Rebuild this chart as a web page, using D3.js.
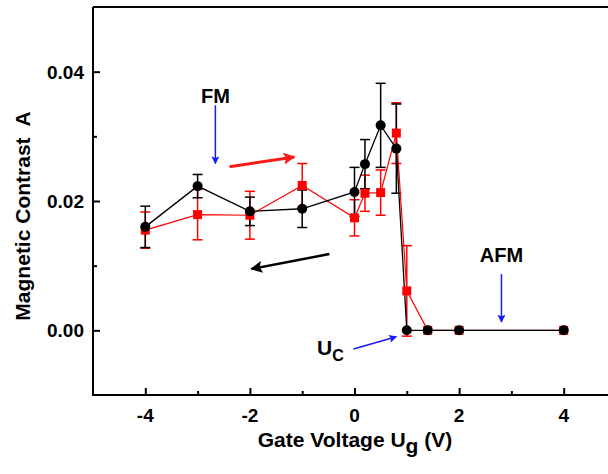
<!DOCTYPE html>
<html>
<head>
<meta charset="utf-8">
<script src="https://cdn.jsdelivr.net/npm/d3@7"></script>
<style>
  body { margin: 0; background: #fff; }
  text { font-family: "Liberation Sans", Arial, sans-serif; font-weight: bold; white-space: pre; }
</style>
</head>
<body>
<div id="chart"></div>
<script>
// gate voltage sweep, magnetic contrast with error bars
var gate = [-4, -3, -2, -1, 0, 0.2, 0.5, 0.8, 1.0, 1.4, 2, 4];
var blackVals = [0.0160, 0.0223, 0.0184, 0.0188, 0.0214, 0.0257, 0.0317, 0.0281, 0, 0, 0, 0];
var blackErr  = [0.0032, 0.0018, 0.0022, 0.0029, 0.0038, 0.0038, 0.0065, 0.0069, 0, 0, 0, 0];
var redVals   = [0.0155, 0.0179, 0.0178, 0.0224, 0.0174, 0.0212, 0.0213, 0.0305, 0.0061, 0, 0, 0];
var redErr    = [0.0028, 0.0039, 0.0037, 0.0034, 0.0028, 0.0028, 0.0035, 0.0047, 0.0070, 0, 0, 0];

var xTicks = [-4, -2, 0, 2, 4];
var xMinor = [-3, -1, 1, 3];
var yTicks = [0, 0.02, 0.04];
var yMinor = [0.01, 0.03];

var width = 608,
    height = 474;

var x = d3.scaleLinear().domain([-5, 5]).range([93, 616]);
var y = d3.scaleLinear().domain([-0.01, 0.05]).range([395, 7]);

var svg = d3.select("#chart").append("svg")
    .attr("width", width)
    .attr("height", height);

var defs = svg.append("defs");
function marker(id, color, w, h) {
    defs.append("marker")
        .attr("id", id)
        .attr("viewBox", "0 0 10 10")
        .attr("refX", 9).attr("refY", 5)
        .attr("markerUnits", "userSpaceOnUse")
        .attr("markerWidth", w).attr("markerHeight", h)
        .attr("orient", "auto")
        .append("path")
        .attr("d", "M0,0 L10,5 L0,10 L2,5 Z")
        .attr("fill", color);
}
marker("headBlue", "#1a1aff", 8, 8);
marker("headRed", "#ff1a1a", 16, 12);
marker("headBlack", "#000", 16, 12);

// frame
svg.append("path")
    .attr("d", "M" + x(-5) + "," + y(0.05) + "H" + (width + 5) +
               "M" + x(-5) + "," + y(0.05) + "V" + y(-0.01) + "H" + (width + 5))
    .attr("fill", "none").attr("stroke", "#000").attr("stroke-width", 2);

// ticks (inward)
var xAxis = d3.axisTop(x).tickValues(xTicks).tickSize(7).tickFormat("");
var gx = svg.append("g").attr("transform", "translate(0," + y(-0.01) + ")").call(xAxis);
gx.select(".domain").remove();
gx.selectAll("line").attr("stroke-width", 2);
var gxm = svg.append("g").attr("transform", "translate(0," + y(-0.01) + ")")
    .call(d3.axisTop(x).tickValues(xMinor).tickSize(4).tickFormat(""));
gxm.select(".domain").remove();
gxm.selectAll("line").attr("stroke-width", 2);

var gy = svg.append("g").attr("transform", "translate(" + x(-5) + ",0)")
    .call(d3.axisRight(y).tickValues(yTicks).tickSize(7).tickFormat(""));
gy.select(".domain").remove();
gy.selectAll("line").attr("stroke-width", 2);
var gym = svg.append("g").attr("transform", "translate(" + x(-5) + ",0)")
    .call(d3.axisRight(y).tickValues(yMinor).tickSize(4).tickFormat(""));
gym.select(".domain").remove();
gym.selectAll("line").attr("stroke-width", 2);

// tick labels
svg.selectAll(".xl").data(xTicks).enter().append("text")
    .attr("x", function(d) { return x(d); })
    .attr("y", 422)
    .attr("text-anchor", "middle")
    .style("font-size", "19px")
    .text(function(d) { return d3.format("d")(d).replace("−", "-"); });
svg.selectAll(".yl").data(yTicks).enter().append("text")
    .attr("x", 84)
    .attr("y", function(d) { return y(d) + 7; })
    .attr("text-anchor", "end")
    .style("font-size", "19px")
    .text(function(d) { return d3.format(".2f")(d); });

// axis titles
svg.append("text")
    .attr("transform", "translate(30," + 216 + ") rotate(-90)")
    .attr("text-anchor", "middle")
    .style("font-size", "21px")
    .text("Magnetic Contrast  A");
var xt = svg.append("text")
    .attr("x", 355).attr("y", 447)
    .attr("text-anchor", "middle")
    .style("font-size", "21px");
xt.append("tspan").text("Gate Voltage U");
xt.append("tspan").attr("dy", 6).text("g");
xt.append("tspan").attr("dy", -6).text(" (V)");

// series
var black = gate.map(function(g, i) { return {x: g, y: blackVals[i], e: blackErr[i]}; });
var red = gate.map(function(g, i) { return {x: g, y: redVals[i], e: redErr[i]}; });

var line = d3.line()
    .x(function(d) { return x(d.x); })
    .y(function(d) { return y(d.y); });

function errorBars(data, color, w) {
    var g = svg.append("g").attr("stroke", color).attr("stroke-width", w);
    data.filter(function(d) { return d.e > 0; }).forEach(function(d) {
        var cx = x(d.x), t = y(d.y + d.e), b = y(d.y - d.e);
        g.append("line").attr("x1", cx).attr("x2", cx).attr("y1", t).attr("y2", b);
        g.append("line").attr("x1", cx - 5).attr("x2", cx + 5).attr("y1", t).attr("y2", t);
        g.append("line").attr("x1", cx - 5).attr("x2", cx + 5).attr("y1", b).attr("y2", b);
    });
}

errorBars(red, "#ff0000", 1.5);
errorBars(black, "#000", 1.5);

svg.append("path").datum(red).attr("d", line)
    .attr("fill", "none").attr("stroke", "#ff0000").attr("stroke-width", 1.2);
svg.append("path").datum(black).attr("d", line)
    .attr("fill", "none").attr("stroke", "#000").attr("stroke-width", 1.3);

svg.selectAll(".sq").data(red).enter().append("rect")
    .attr("x", function(d) { return x(d.x) - 4.5; })
    .attr("y", function(d) { return y(d.y) - 4.5; })
    .attr("width", 9).attr("height", 9)
    .attr("fill", "#ff0000");
svg.selectAll(".dot").data(black).enter().append("circle")
    .attr("cx", function(d) { return x(d.x); })
    .attr("cy", function(d) { return y(d.y); })
    .attr("r", 5)
    .attr("fill", "#000");

// annotations
function arrow(x1, y1, x2, y2, color, w, head) {
    svg.append("line")
        .attr("x1", x(x1)).attr("y1", y(y1))
        .attr("x2", x(x2)).attr("y2", y(y2))
        .attr("stroke", color).attr("stroke-width", w)
        .attr("marker-end", "url(#" + head + ")");
}
arrow(-2.66, 0.0348, -2.66, 0.0258, "#1a1aff", 1.5, "headBlue");
arrow(-2.39, 0.0253, -1.15, 0.0268, "#ff1a1a", 3, "headRed");
arrow(-0.48, 0.0118, -1.97, 0.0095, "#000", 2.5, "headBlack");
arrow(2.81, 0.0087, 2.81, 0.0013, "#1a1aff", 1.5, "headBlue");
arrow(-0.02, -0.0029, 0.80, -0.0010, "#1a1aff", 1.5, "headBlue");

svg.append("text").attr("x", x(-2.66)).attr("y", 103)
    .attr("text-anchor", "middle").style("font-size", "20px").text("FM");
svg.append("text").attr("x", x(2.81)).attr("y", 262)
    .attr("text-anchor", "middle").style("font-size", "20px").text("AFM");
var uc = svg.append("text").attr("x", 317).attr("y", 355).style("font-size", "21px");
uc.append("tspan").text("U");
uc.append("tspan").attr("dy", 6).style("font-size", "16px").text("C");
</script>
</body>
</html>
